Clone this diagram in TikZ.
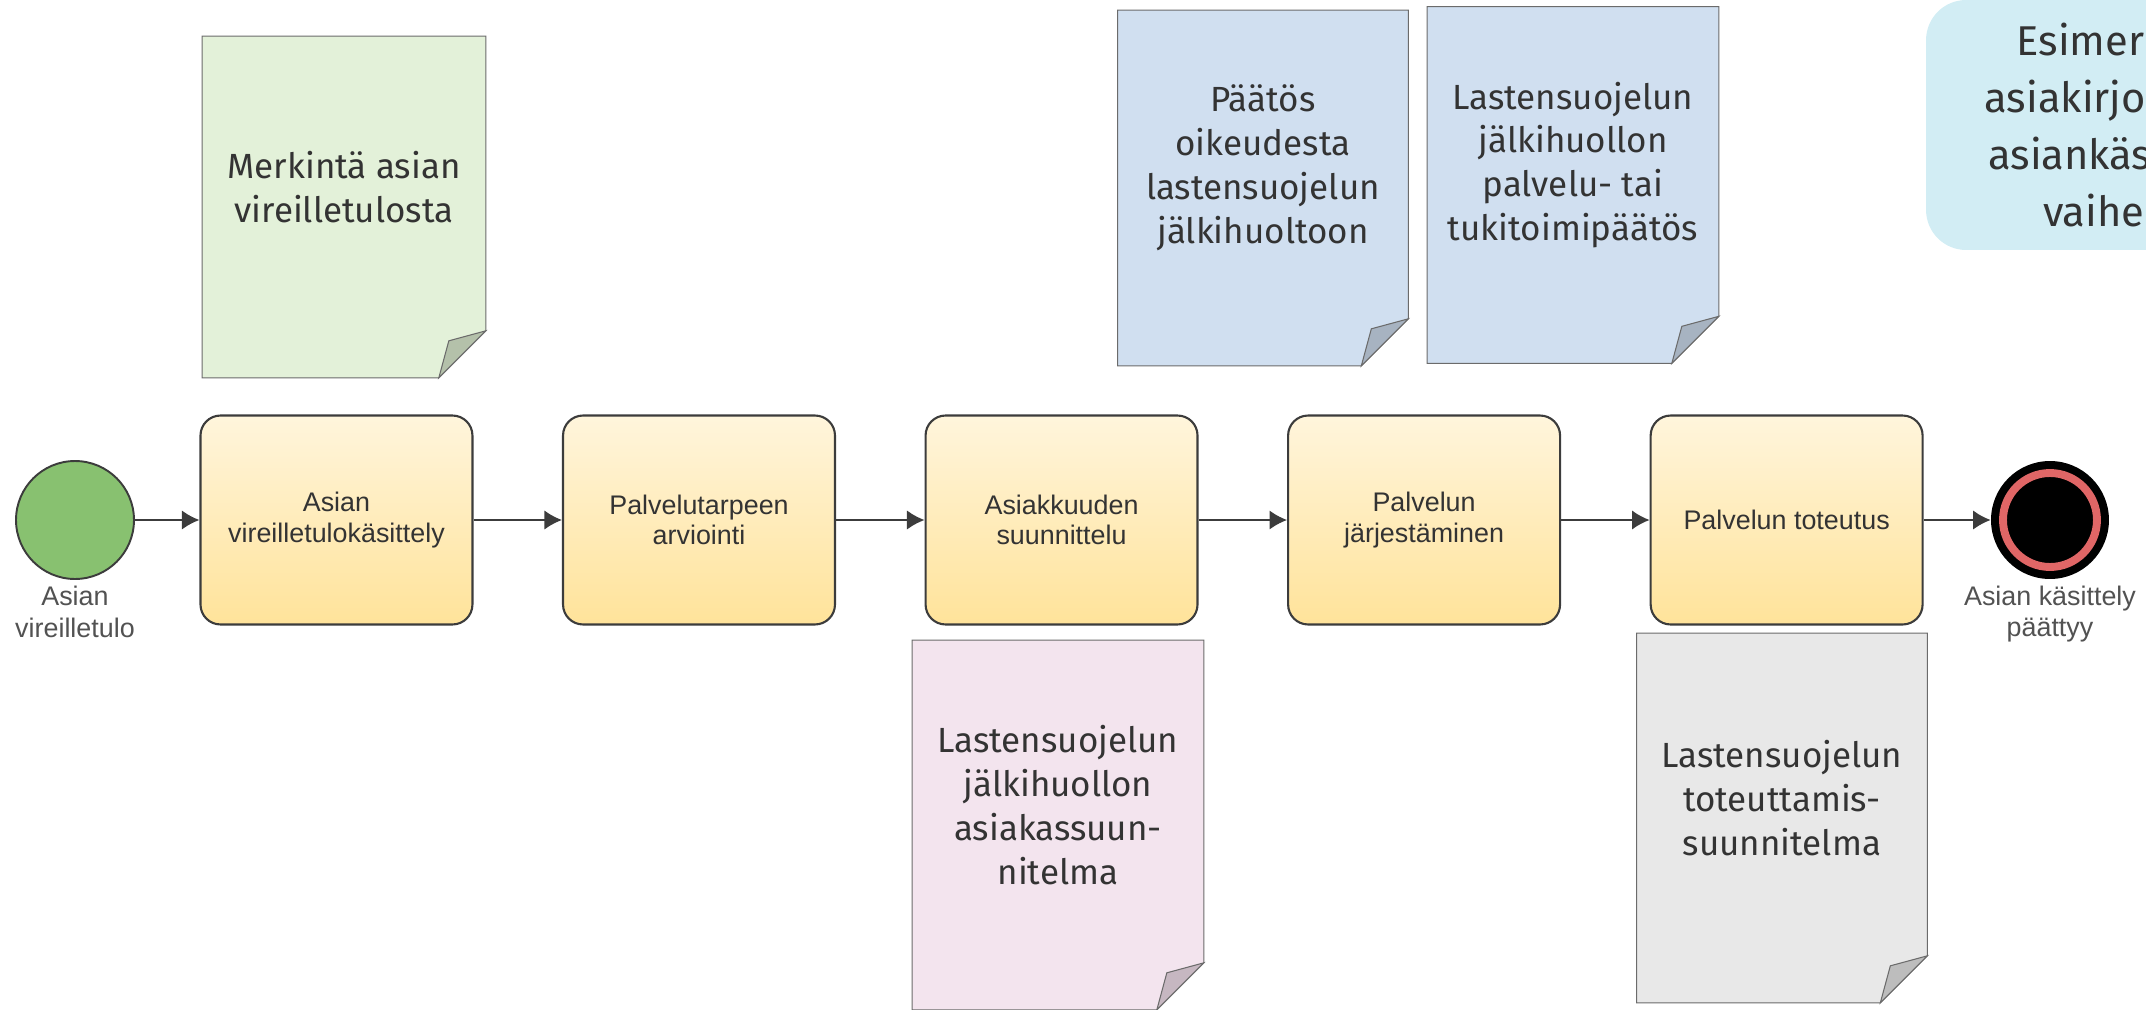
\documentclass[tikz,border=0pt]{standalone}
\usepackage{fontspec}
\setmainfont{Fira Sans}
\newfontfamily\arialfont{Liberation Sans}
\usetikzlibrary{positioning,arrows.meta,calc,backgrounds}

\definecolor{taskborder}{HTML}{3C3C3C}
\definecolor{tasktop}{HTML}{FFF5DC}
\definecolor{taskbottom}{HTML}{FFE39A}
\definecolor{startgreen}{HTML}{88C170}
\definecolor{endred}{HTML}{E06666}
\definecolor{notegreen}{HTML}{E3F1D9}
\definecolor{foldgreen}{HTML}{B4C1AA}
\definecolor{noteblue}{HTML}{D0DFF0}
\definecolor{foldblue}{HTML}{A7B3C1}
\definecolor{notepink}{HTML}{F3E4EE}
\definecolor{foldpink}{HTML}{C6B7C1}
\definecolor{notegray}{HTML}{E8E8E8}
\definecolor{foldgray}{HTML}{BDBDBD}
\definecolor{notedge}{HTML}{6B6B6B}
\definecolor{infocyan}{HTML}{D2EDF4}
\definecolor{textgray}{HTML}{333333}

\tikzset{
  tehtava/.style={rectangle, rounded corners=0.4cm, draw=taskborder, line width=1.2pt,
    top color=tasktop, bottom color=taskbottom, minimum width=5.44cm, minimum height=4.18cm,
    align=center, font=\arialfont\fontsize{15.3}{17.5}\selectfont, text=textgray},
  tapahtuma/.style={circle, minimum size=2.36cm, inner sep=0pt},
  selite/.style={align=center, font=\arialfont\fontsize{15.3}{18}\selectfont, text=textgray!85},
  muistio/.style={align=center, font=\fontsize{19.9}{25}\selectfont, text=textgray},
  nuoli/.style={draw=taskborder, line width=1pt, -{Latex[length=10pt,width=11pt]}},
}

% folded paper behind a note node (outline sits 20px lower than the text)
\newcommand{\taitto}[3]{%
  \begin{scope}[on background layer]
    \filldraw[fill=#2, draw=notedge, line width=0.6pt]
      ($(#1.north west)+(0,20)$) -- ($(#1.north east)+(0,20)$) -- ($(#1.south east)+(0,-27)$)
      -- ($(#1.south east)+(-47,20)$) -- ($(#1.south west)+(0,20)$) -- cycle;
    \filldraw[fill=#3, draw=notedge, line width=0.6pt]
      ($(#1.south east)+(0,-27)$) -- ($(#1.south east)+(-37,-17)$) -- ($(#1.south east)+(-47,20)$) -- cycle;
  \end{scope}}

\begin{document}
\begin{tikzpicture}[x=0.02cm, y=-0.02cm]
  \clip (0,0) rectangle (2146,1010);

  % process
  \node[tapahtuma, draw=taskborder, line width=1.1pt, fill=startgreen] (alku) at (75,520) {};
  \node[tehtava, right=1.29cm of alku] (t1) {Asian\\vireilletulokäsittely};
  \node[tehtava, right=1.77cm of t1] (t2) {Palvelutarpeen\\arviointi};
  \node[tehtava, right=1.77cm of t2] (t3) {Asiakkuuden\\suunnittelu};
  \node[tehtava, right=1.77cm of t3] (t4) {Palvelun\\järjestäminen};
  \node[tehtava, right=1.77cm of t4] (t5) {Palvelun toteutus};
  \node[tapahtuma, fill=black, right=1.34cm of t5] (loppu) {};
  \draw[endred, line width=4.5pt] (loppu.center) circle[radius=0.94cm];

  \node[selite, below=0pt of alku] (alku-t) {Asian\\vireilletulo};
  \node[selite, below=0pt of loppu] (loppu-t) {Asian käsittely\\päättyy};

  \foreach \a/\b in {alku/t1,t1/t2,t2/t3,t3/t4,t4/t5,t5/loppu}
    \draw[nuoli] (\a) -- (\b);

  % documents
  \node[muistio, minimum width=5.66cm, minimum height=6.82cm] (merkinta) at (344,187) {Merkintä asian\\vireilletulosta};
  \taitto{merkinta}{notegreen}{foldgreen}
  \node[muistio, minimum width=5.8cm, minimum height=7.1cm] (paatos) at (1263,168) {Päätös\\oikeudesta\\lastensuojelun\\jälkihuoltoon};
  \taitto{paatos}{noteblue}{foldblue}
  \node[muistio, minimum width=5.82cm, minimum height=7.12cm] (tukipaatos) at (1573,165) {Lastensuojelun\\jälkihuollon\\palvelu- tai\\tukitoimipäätös};
  \taitto{tukipaatos}{noteblue}{foldblue}
  \node[muistio, minimum width=5.82cm, minimum height=7.38cm] (asiakassuun) at (1058,805) {Lastensuojelun\\jälkihuollon\\asiakassuun-\\nitelma};
  \taitto{asiakassuun}{notepink}{foldpink}
  \node[muistio, minimum width=5.8cm, minimum height=7.38cm] (toteutus) at (1782,798) {Lastensuojelun\\toteuttamis-\\suunnitelma};
  \taitto{toteutus}{notegray}{foldgray}

  % info box (cut by the page edge)
  \node[fill=infocyan, rounded corners=0.8cm, minimum width=8.16cm, minimum height=5cm,
    align=center, text=textgray, font=\fontsize{23.7}{32.5}\selectfont] (esim) at (2130,125)
    {Esimerkkejä\\asiakirjoista eri\\asiankäsittelyn\\vaiheissa};
\end{tikzpicture}
\end{document}
